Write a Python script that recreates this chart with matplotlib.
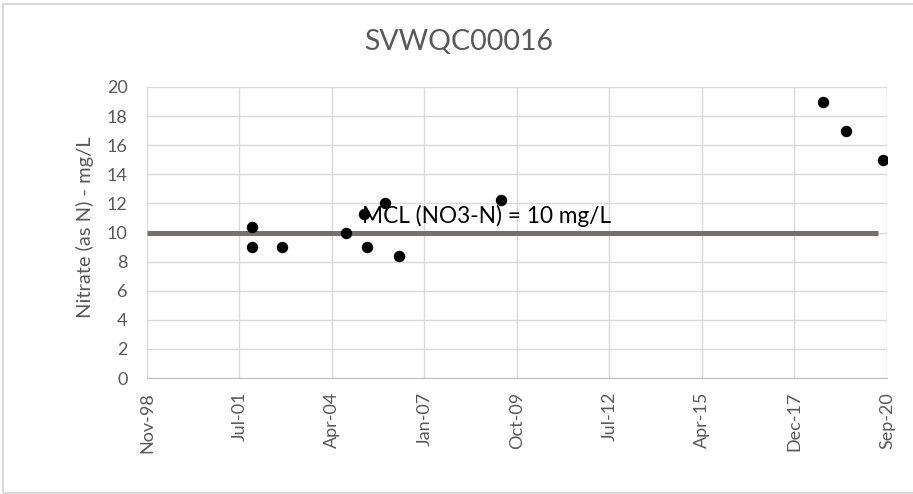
import numpy as np
import pandas as pd
import matplotlib.pyplot as plt
from matplotlib.patches import Rectangle

plt.rcParams['font.family'] = ['Lato', 'DejaVu Sans']

# sample dates and nitrate values (mg/L as N)
sample_dates = pd.to_datetime([
    '2001-12-12', '2001-12-12', '2002-10-26', '2004-09-19', '2005-04-05',
    '2005-05-11', '2005-11-14', '2006-04-18', '2009-04-20',
    '2018-11-07', '2019-07-13', '2020-08-13',
])
nitrate = [10.4, 9.0, 9.0, 10.0, 11.3, 9.0, 12.0, 8.4, 12.2, 19.0, 17.0, 15.0]

# MCL reference line
mcl_dates = pd.to_datetime(['1998-11-01', '2020-06-20'])
mcl_values = [10, 10]
mcl_label = 'MCL (NO3-N) = 10 mg/L'

tick_labels = ['Nov-98', 'Jul-01', 'Apr-04', 'Jan-07', 'Oct-09',
               'Jul-12', 'Apr-15', 'Dec-17', 'Sep-20']
# Excel-style date axis: 1000-day major unit starting at the axis minimum
tick_dates = pd.date_range('1998-11-01', periods=len(tick_labels), freq='1000D')

fig = plt.figure(figsize=(9.13, 4.94), dpi=100)
ax = fig.add_axes([0.161, 0.2348, 0.8105, 0.5891])

# chart area border (right edge runs off the image)
fig.patches.append(Rectangle((3 / 913, 1 / 494), 915 / 913, 489 / 494, transform=fig.transFigure,
                             fill=False, edgecolor='#d9d9d9', linewidth=1.5))

ax.plot(mcl_dates, mcl_values, color='#767171', linewidth=3.6, solid_capstyle='butt', zorder=2)
ax.scatter(sample_dates, nitrate, s=52, color='black', zorder=3)
ax.text(pd.Timestamp('2005-03-10'), 10.62, mcl_label, fontsize=16.3, color='black',
        va='baseline', ha='left', zorder=4)

ax.set_xlim(tick_dates[0], tick_dates[-1])
ax.set_xticks(tick_dates)
ax.set_xticklabels(tick_labels, rotation=90, color='#595959', fontsize=13)
ax.set_ylim(0, 20)
ax.set_yticks(np.arange(0, 21, 2))
ax.tick_params(axis='y', labelsize=13, labelcolor='#595959', length=0, pad=14)
ax.tick_params(axis='x', length=0, pad=10)

ax.grid(True, color='#d9d9d9', linewidth=1)
ax.set_axisbelow(True)
for side in ['top', 'right', 'left']:
    ax.spines[side].set_visible(False)
ax.spines['bottom'].set_color('#bfbfbf')

fig.text(85 / 913, 1 - 227 / 494, 'Nitrate (as N) - mg/L', rotation=90,
         fontsize=14.5, color='#595959', ha='center', va='center')
fig.text(0.502, 1 - 42 / 494, 'SVWQC00016', fontsize=20.5, color='#595959',
         ha='center', va='center')

fig.savefig('out.png', dpi=100)
